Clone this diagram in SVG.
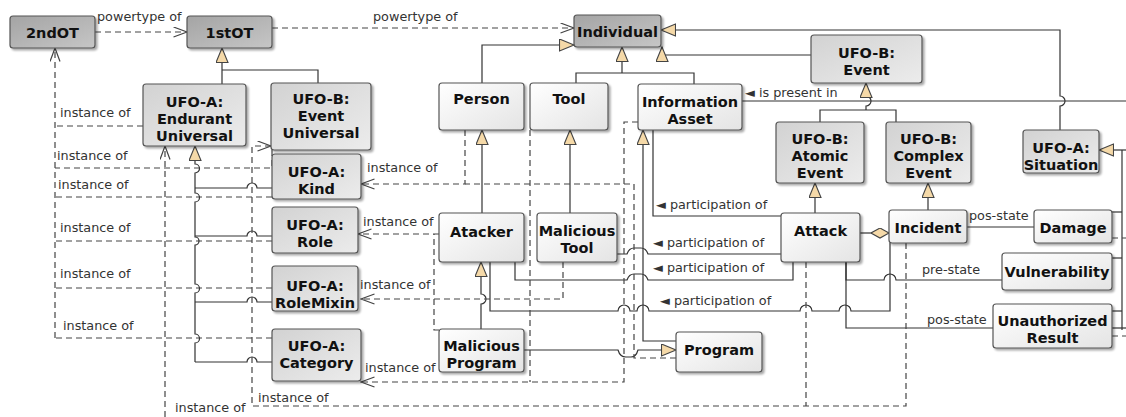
<svg xmlns="http://www.w3.org/2000/svg" width="1126" height="417" viewBox="0 0 1126 417">
  <style>
    .box { stroke: #555; stroke-width: 1.2; filter: url(#shadow); }
    .dark { fill: url(#gDark); }
    .ufo { fill: url(#gUfo); }
    .dom { fill: url(#gDom); }
    .n { font-family: "DejaVu Sans", sans-serif; font-weight: bold; font-size: 14.5px; fill: #111; text-anchor: middle; }
    .l { font-family: "DejaVu Sans", sans-serif; font-size: 12.8px; fill: #333; }
    .s { fill: none; stroke: #333; stroke-width: 1.2; }
    .d { fill: none; stroke: #444; stroke-width: 1.2; stroke-dasharray: 6 4; }
  </style>
  <defs>
    <linearGradient id="gDark" x1="0" y1="0" x2="1" y2="1">
      <stop offset="0" stop-color="#a4a4a4"/>
      <stop offset="1" stop-color="#c6c6c6"/>
    </linearGradient>
    <linearGradient id="gUfo" x1="0" y1="0" x2="1" y2="1">
      <stop offset="0" stop-color="#d2d2d2"/>
      <stop offset="1" stop-color="#ececec"/>
    </linearGradient>
    <linearGradient id="gDom" x1="0" y1="0" x2="1" y2="1">
      <stop offset="0" stop-color="#ffffff"/>
      <stop offset="1" stop-color="#e4e4e4"/>
    </linearGradient>
    <filter id="shadow" x="-10%" y="-10%" width="130%" height="140%">
      <feGaussianBlur in="SourceAlpha" stdDeviation="1.2"/>
      <feOffset dx="2" dy="2" result="o"/>
      <feComponentTransfer><feFuncA type="linear" slope="0.35"/></feComponentTransfer>
      <feMerge><feMergeNode/><feMergeNode in="SourceGraphic"/></feMerge>
    </filter>
    <marker id="tri" markerUnits="userSpaceOnUse" markerWidth="17" markerHeight="14" refX="15" refY="6.5" orient="auto">
      <path d="M0.5,0.5 L15,6.5 L0.5,12.5 Z" fill="#f5d9a8" stroke="#444" stroke-width="1.1"/>
    </marker>
    <marker id="open" markerUnits="userSpaceOnUse" markerWidth="15" markerHeight="12" refX="14" refY="5.5" orient="auto">
      <path d="M0.5,0.5 L14,5.5 L0.5,10.5" fill="none" stroke="#444" stroke-width="1.2"/>
    </marker>
    <marker id="dia" markerUnits="userSpaceOnUse" markerWidth="20" markerHeight="12" refX="18.5" refY="5.5" orient="auto">
      <path d="M0.5,5.5 L9.5,0.5 L18.5,5.5 L9.5,10.5 Z" fill="#f5d9a8" stroke="#444" stroke-width="1.1"/>
    </marker>
  </defs>

  <rect width="1126" height="417" fill="#fff"/>

  <!-- connectors -->
  <g id="connectors">
    <!-- powertype relations -->
    <path class="d" d="M95,32 H187" marker-end="url(#open)"/>
    <path class="d" d="M272,28 H574" marker-end="url(#open)"/>

    <!-- instance-of links to 2ndOT -->
    <path class="d" d="M55,338 V48" marker-end="url(#open)"/>
    <path class="d" d="M143,126 H55"/>
    <path class="d" d="M272,150 V168 H55"/>
    <path class="d" d="M272,197 H55"/>
    <path class="d" d="M272,241 H55"/>
    <path class="d" d="M272,288 H55"/>
    <path class="d" d="M272,338 H55"/>
    <path class="d" d="M165,417 V146" marker-end="url(#open)"/>

    <!-- generalizations in the ontological layer -->
    <path class="s" d="M222,84 V48" marker-end="url(#tri)"/>
    <path class="s" d="M318,83 V70 H222"/>
    <path class="s" d="M195,362 V343 A4,4 0 0 0 195,334 V293 A4,4 0 0 0 195,284 V245 A4,4 0 0 0 195,237 V202 A4,4 0 0 0 195,193 V173 A4,4 0 0 0 195,164 V146" marker-end="url(#tri)"/>
    <path class="s" d="M195,188 H247 A5,5 0 0 1 257,188 H272"/>
    <path class="s" d="M195,236 H247 A5,5 0 0 1 257,236 H272"/>
    <path class="s" d="M195,302 H247 A5,5 0 0 1 257,302 H272"/>
    <path class="s" d="M195,362 H247 A5,5 0 0 1 257,362 H272"/>

    <!-- generalizations to Individual -->
    <path class="s" d="M482,83 V45 H574" marker-end="url(#tri)"/>
    <path class="s" d="M576,83 V73 H694 V84"/>
    <path class="s" d="M622,73 V47" marker-end="url(#tri)"/>
    <path class="s" d="M811,55 H662 V47" marker-end="url(#tri)"/>
    <path class="s" d="M1060,130 V106 A5,5 0 0 0 1060,96 V30 H661" marker-end="url(#tri)"/>

    <!-- is present in -->
    <path class="s" d="M742,101 H1126"/>

    <!-- event hierarchy -->
    <path class="s" d="M820,122 V110 H896 V122"/>
    <path class="s" d="M866,110 V106 A5,5 0 0 0 866,96 V83" marker-end="url(#tri)"/>
    <path class="s" d="M815,213 V183" marker-end="url(#tri)"/>
    <path class="s" d="M928,210 V183" marker-end="url(#tri)"/>
    <path class="s" d="M860,233 H889" marker-end="url(#dia)"/>
    <path class="s" d="M967,227 H1034"/>

    <!-- domain generalizations -->
    <path class="s" d="M482,213 V130" marker-end="url(#tri)"/>
    <path class="s" d="M570,213 V130" marker-end="url(#tri)"/>
    <path class="s" d="M481,329 V304 A5,5 0 0 0 481,294 V262" marker-end="url(#tri)"/>
    <path class="s" d="M676,341 H643 V130" marker-end="url(#tri)"/>
    <path class="s" d="M524,350 H618 Q620,357 626,357 H631 Q636,357 638,350 H676" marker-end="url(#tri)"/>

    <!-- participation -->
    <path class="s" d="M653,130 V216 H781"/>
    <path class="s" d="M617,254 H627 Q629,248 634,248 H641 Q646,248 648,254 H781"/>
    <path class="s" d="M515,262 V280 H627 Q629,274 634,274 H641 Q646,274 648,280 H793 V262"/>
    <path class="s" d="M490,262 V311 H618 A6,6 0 0 1 630,311 H637 A6,6 0 0 1 649,311 H800 A6,6 0 0 1 812,311 H839 A6,6 0 0 1 851,311 H890 V243"/>

    <!-- situations -->
    <path class="s" d="M846,262 V280 H884 A6,6 0 0 1 896,280 H1002"/>
    <path class="s" d="M846,262 V328 H993"/>
    <path class="s" d="M1126,150 H1099" marker-end="url(#tri)"/>
    <path class="s" d="M1122,150 V330"/>
    <path class="s" d="M1112,212 H1122"/>
    <path class="s" d="M1112,258 H1122"/>
    <path class="s" d="M1112,311 H1122"/>
    <path class="s" d="M1112,328 H1126"/>
    <path class="d" d="M1112,238 H1126"/>
    <path class="d" d="M1112,336 H1126"/>

    <!-- instance-of links from individuals -->
    <path class="d" d="M465,130 V184 H361" marker-end="url(#open)"/>
    <path class="d" d="M676,358 H634 V184 H465"/>
    <path class="d" d="M439,234 H358" marker-end="url(#open)"/>
    <path class="d" d="M439,330 H434 V234"/>
    <path class="d" d="M563,262 V299 H361" marker-end="url(#open)"/>
    <path class="d" d="M638,122 H624 V382 H361" marker-end="url(#open)"/>
    <path class="d" d="M530,130 V382"/>
    <path class="d" d="M906,243 V406 H252 V146 H271" marker-end="url(#open)"/>
    <path class="d" d="M806,262 V406"/>

    <!-- connector labels -->
    <text class="l" x="97" y="21">powertype of</text>
    <text class="l" x="373" y="21">powertype of</text>
    <text class="l" x="745" y="97">◄ is present in</text>
    <text class="l" x="60" y="117">instance of</text>
    <text class="l" x="57" y="160">instance of</text>
    <text class="l" x="58" y="189">instance of</text>
    <text class="l" x="60" y="232">instance of</text>
    <text class="l" x="60" y="278">instance of</text>
    <text class="l" x="63" y="330">instance of</text>
    <text class="l" x="367" y="172">instance of</text>
    <text class="l" x="363" y="226">instance of</text>
    <text class="l" x="360" y="289">instance of</text>
    <text class="l" x="365" y="372">instance of</text>
    <text class="l" x="258" y="402">instance of</text>
    <text class="l" x="175" y="412">instance of</text>
    <text class="l" x="656" y="209">◄ participation of</text>
    <text class="l" x="653" y="247">◄ participation of</text>
    <text class="l" x="653" y="272">◄ participation of</text>
    <text class="l" x="660" y="305">◄ participation of</text>
    <text class="l" x="969" y="220">pos-state</text>
    <text class="l" x="922" y="274">pre-state</text>
    <text class="l" x="927" y="324">pos-state</text>
  </g>

  <!-- nodes -->
  <g id="n2ndOT"><rect class="box dark" x="10" y="16" width="85" height="32" rx="3"/><text class="n" x="52.5" y="38">2ndOT</text></g>
  <g id="n1stOT"><rect class="box dark" x="187" y="16" width="85" height="32" rx="3"/><text class="n" x="229.5" y="38">1stOT</text></g>
  <g id="nIndividual"><rect class="box dark" x="574" y="15" width="87" height="32" rx="3"/><text class="n" x="617.5" y="37">Individual</text></g>
  <g id="nEndurantUniversal"><rect class="box ufo" x="143" y="84" width="103" height="62" rx="3"/><text class="n" x="194.5" y="107">UFO-A:</text><text class="n" x="194.5" y="124">Endurant</text><text class="n" x="194.5" y="141">Universal</text></g>
  <g id="nEventUniversal"><rect class="box ufo" x="271" y="83" width="100" height="67" rx="3"/><text class="n" x="321" y="104">UFO-B:</text><text class="n" x="321" y="121">Event</text><text class="n" x="321" y="138">Universal</text></g>
  <g id="nPerson"><rect class="box dom" x="439" y="83" width="85" height="47" rx="3"/><text class="n" x="481.5" y="104">Person</text></g>
  <g id="nTool"><rect class="box dom" x="530" y="83" width="78" height="47" rx="3"/><text class="n" x="569" y="104">Tool</text></g>
  <g id="nInformationAsset"><rect class="box dom" x="638" y="84" width="104" height="46" rx="3"/><text class="n" x="690" y="107">Information</text><text class="n" x="690" y="124">Asset</text></g>
  <g id="nEvent"><rect class="box ufo" x="811" y="35" width="111" height="48" rx="3"/><text class="n" x="866.5" y="58">UFO-B:</text><text class="n" x="866.5" y="75">Event</text></g>
  <g id="nAtomicEvent"><rect class="box ufo" x="776" y="122" width="88" height="61" rx="3"/><text class="n" x="820" y="144">UFO-B:</text><text class="n" x="820" y="161">Atomic</text><text class="n" x="820" y="178">Event</text></g>
  <g id="nComplexEvent"><rect class="box ufo" x="886" y="122" width="85" height="61" rx="3"/><text class="n" x="928.5" y="144">UFO-B:</text><text class="n" x="928.5" y="161">Complex</text><text class="n" x="928.5" y="178">Event</text></g>
  <g id="nSituation"><rect class="box ufo" x="1023" y="130" width="76" height="43" rx="3"/><text class="n" x="1061" y="153">UFO-A:</text><text class="n" x="1061" y="170">Situation</text></g>
  <g id="nKind"><rect class="box ufo" x="272" y="154" width="89" height="45" rx="3"/><text class="n" x="316.5" y="177">UFO-A:</text><text class="n" x="316.5" y="194">Kind</text></g>
  <g id="nRole"><rect class="box ufo" x="272" y="207" width="86" height="46" rx="3"/><text class="n" x="315" y="230">UFO-A:</text><text class="n" x="315" y="247">Role</text></g>
  <g id="nRoleMixin"><rect class="box ufo" x="272" y="266" width="86" height="45" rx="3"/><text class="n" x="315" y="291">UFO-A:</text><text class="n" x="315" y="308">RoleMixin</text></g>
  <g id="nCategory"><rect class="box ufo" x="272" y="329" width="89" height="52" rx="3"/><text class="n" x="316.5" y="351">UFO-A:</text><text class="n" x="316.5" y="368">Category</text></g>
  <g id="nAtacker"><rect class="box dom" x="439" y="213" width="85" height="49" rx="3"/><text class="n" x="481.5" y="237">Atacker</text></g>
  <g id="nMaliciousTool"><rect class="box dom" x="537" y="213" width="80" height="49" rx="3"/><text class="n" x="577" y="236">Malicious</text><text class="n" x="577" y="253">Tool</text></g>
  <g id="nAttack"><rect class="box dom" x="781" y="213" width="79" height="49" rx="3"/><text class="n" x="820.5" y="236">Attack</text></g>
  <g id="nIncident"><rect class="box dom" x="889" y="210" width="78" height="33" rx="3"/><text class="n" x="928" y="233">Incident</text></g>
  <g id="nDamage"><rect class="box dom" x="1034" y="210" width="78" height="33" rx="3"/><text class="n" x="1073" y="233">Damage</text></g>
  <g id="nVulnerability"><rect class="box dom" x="1002" y="253" width="110" height="37" rx="3"/><text class="n" x="1057" y="277">Vulnerability</text></g>
  <g id="nUnauthorizedResult"><rect class="box dom" x="993" y="304" width="119" height="44" rx="3"/><text class="n" x="1052.5" y="326">Unauthorized</text><text class="n" x="1052.5" y="343">Result</text></g>
  <g id="nMaliciousProgram"><rect class="box dom" x="439" y="329" width="85" height="43" rx="3"/><text class="n" x="481.5" y="351">Malicious</text><text class="n" x="481.5" y="368">Program</text></g>
  <g id="nProgram"><rect class="box dom" x="676" y="332" width="86" height="40" rx="3"/><text class="n" x="719" y="355">Program</text></g>
</svg>
